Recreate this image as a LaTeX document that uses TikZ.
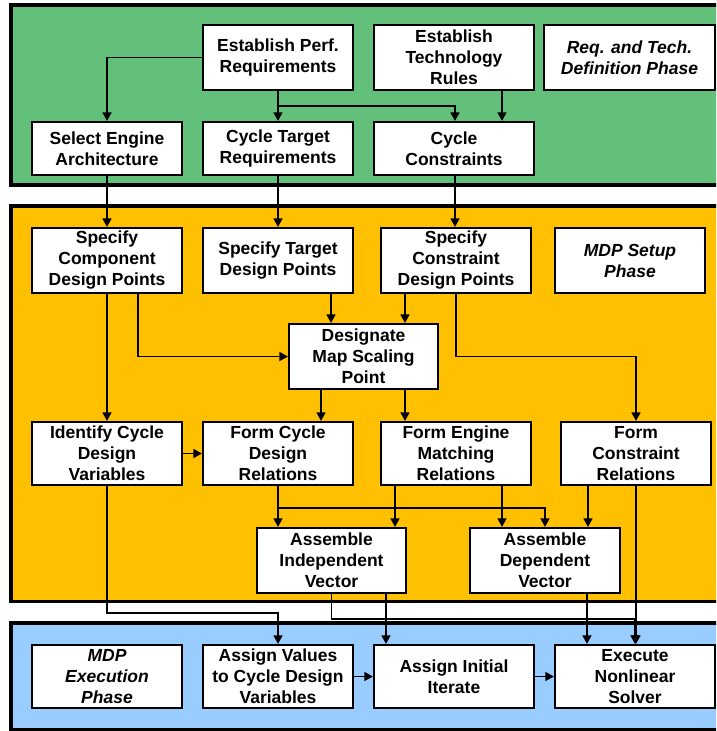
\documentclass[tikz,border=0pt]{standalone}
\usepackage{fontspec}
\setmainfont{Liberation Sans}
\usetikzlibrary{arrows.meta}
\definecolor{phasegreen}{RGB}{98,192,122}
\definecolor{phaseorange}{RGB}{255,192,0}
\definecolor{phaseblue}{RGB}{153,204,255}
\tikzset{
  panel/.style={draw=black, line width=3.8pt},
  box/.style={draw=black, line width=2.2pt, fill=white, align=center, inner sep=0pt,
    font=\fontsize{17.5}{21}\selectfont\bfseries, minimum width=150pt, minimum height=65pt},
  phasebox/.style={box, font=\fontsize{17.5}{21}\selectfont\bfseries\itshape},
  arr/.style={line width=1.5pt, -{Triangle[length=8.5pt,width=9pt]}},
  link/.style={line width=1.5pt}
}
\begin{document}
\begin{tikzpicture}[x=1pt,y=-1pt]
\useasboundingbox (0,0) rectangle (716,731);
\clip (0,0) rectangle (716,731);
\fill[white] (0,0) rectangle (716,731);

% phase panels
\draw[panel, fill=phasegreen]  (11,5)   rectangle (740,185);
\draw[panel, fill=phaseorange] (11,206) rectangle (740,601.5);
\draw[panel, fill=phaseblue]   (11,623) rectangle (740,729.5);

% requirements and technology definition
\node[box] (epr) at (278,57.5) {Establish Perf.\\Requirements};
\node[box, minimum width=160pt] (etr) at (454,57.5) {Establish\\Technology\\Rules};
\node[phasebox, minimum width=171pt] (rtd) at (629.5,57.5) {Req. and Tech.\\Definition Phase};
\node[box, minimum height=53pt] (sea) at (107,148.5) {Select Engine\\Architecture};
\node[box, minimum height=53pt] (ctr) at (278,148.5) {Cycle Target\\Requirements};
\node[box, minimum height=53pt, minimum width=160pt] (cc) at (454,148.5) {Cycle\\Constraints};

% setup
\node[box] (scdp) at (107,260.5) {Specify\\Component\\Design Points};
\node[box] (stdp) at (278,260.5) {Specify Target\\Design Points};
\node[box] (scon) at (456,260.5) {Specify\\Constraint\\Design Points};
\node[phasebox] (mdps) at (630,260.5) {MDP Setup\\Phase};
\node[box, minimum width=149pt] (dmsp) at (363.5,356.5) {Designate\\Map Scaling\\Point};
\node[box, minimum height=63pt] (icdv) at (107,453.5) {Identify Cycle\\Design\\Variables};
\node[box, minimum height=63pt] (fcdr) at (278,453.5) {Form Cycle\\Design\\Relations};
\node[box, minimum height=63pt] (femr) at (456,453.5) {Form Engine\\Matching\\Relations};
\node[box, minimum height=63pt] (fcr) at (636,453.5) {Form\\Constraint\\Relations};
\node[box, minimum width=149pt] (aiv) at (331.5,560.5) {Assemble\\Independent\\Vector};
\node[box] (adv) at (545,560.5) {Assemble\\Dependent\\Vector};

% execution
\node[phasebox, minimum height=63pt] (mdpe) at (107,676.5) {MDP\\Execution\\Phase};
\node[box, minimum height=63pt] (av) at (278,676.5) {Assign Values\\to Cycle Design\\Variables};
\node[box, minimum height=63pt, minimum width=160pt] (aii) at (454,676.5) {Assign Initial\\Iterate};
\node[box, minimum height=63pt, minimum width=160pt] (ens) at (635,676.5) {Execute\\Nonlinear\\Solver};

% connector attachment points
\coordinate (etrOut) at ([xshift=48pt]etr.south);
\coordinate (scdpOut) at ([xshift=31pt]scdp.south);
\coordinate (dmspInA) at ([xshift=-32.5pt]dmsp.north);
\coordinate (dmspInB) at ([xshift=41.5pt]dmsp.north);
\coordinate (dmspOutA) at ([xshift=-42.5pt]dmsp.south);
\coordinate (dmspOutB) at ([xshift=41.5pt]dmsp.south);
\coordinate (femrOutA) at ([xshift=-61pt]femr.south);
\coordinate (femrOutB) at ([xshift=46pt]femr.south);
\coordinate (fcrOut) at ([xshift=-48pt]fcr.south);
\coordinate (aivOut) at ([xshift=54.5pt]aiv.south);
\coordinate (advOut) at ([xshift=42pt]adv.south);

% requirements connectors
\draw[arr] (epr.west) -| (sea.north);
\draw[arr] (epr.south) -- (ctr.north);
\draw[arr] (epr.south) -- ++(0,15) -| ([xshift=1pt]cc.north);
\draw[arr] (etrOut) -- (etrOut |- cc.north);
\draw[arr] (sea.south) -- (scdp.north);
\draw[arr] (ctr.south) -- (stdp.north);
\draw[arr] ([xshift=1pt]cc.south) -- ([xshift=1pt]cc.south |- scon.north);

% setup connectors
\draw[arr] (scdp.south) -- (icdv.north);
\draw[arr] (scdpOut) |- (dmsp.west);
\draw[arr] (stdp.south -| dmspInA) -- (dmspInA);
\draw[arr] (scon.south -| dmspInB) -- (dmspInB);
\draw[arr] (scon.south) -- (scon.south |- dmsp.west) -| (fcr.north);
\draw[arr] (dmspOutA) -- (dmspOutA |- fcdr.north);
\draw[arr] (dmspOutB) -- (dmspOutB |- femr.north);
\draw[arr] (icdv.east) -- (fcdr.west);
\draw[arr] (fcdr.south) -- (fcdr.south |- aiv.north);
\draw[arr] (fcdr.south) -- ++(0,22) -| (adv.north);
\draw[arr] (femrOutA) -- (femrOutA |- aiv.north);
\draw[arr] (femrOutB) -- (femrOutB |- adv.north);
\draw[arr] (fcrOut) -- (fcrOut |- adv.north);

% execution connectors
\draw[arr] (icdv.south) -- ++(0,127) -| (av.north);
\draw[arr] (aiv.south) -- ++(0,25) -| (ens.north);
\draw[arr] (fcr.south) -- (fcr.south |- ens.north);
\draw[arr] (aivOut) -- (aivOut |- aii.north);
\draw[arr] (advOut) -- (advOut |- ens.north);
\draw[arr] (av.east) -- (aii.west);
\draw[arr] (aii.east) -- (ens.west);
\end{tikzpicture}
\end{document}
